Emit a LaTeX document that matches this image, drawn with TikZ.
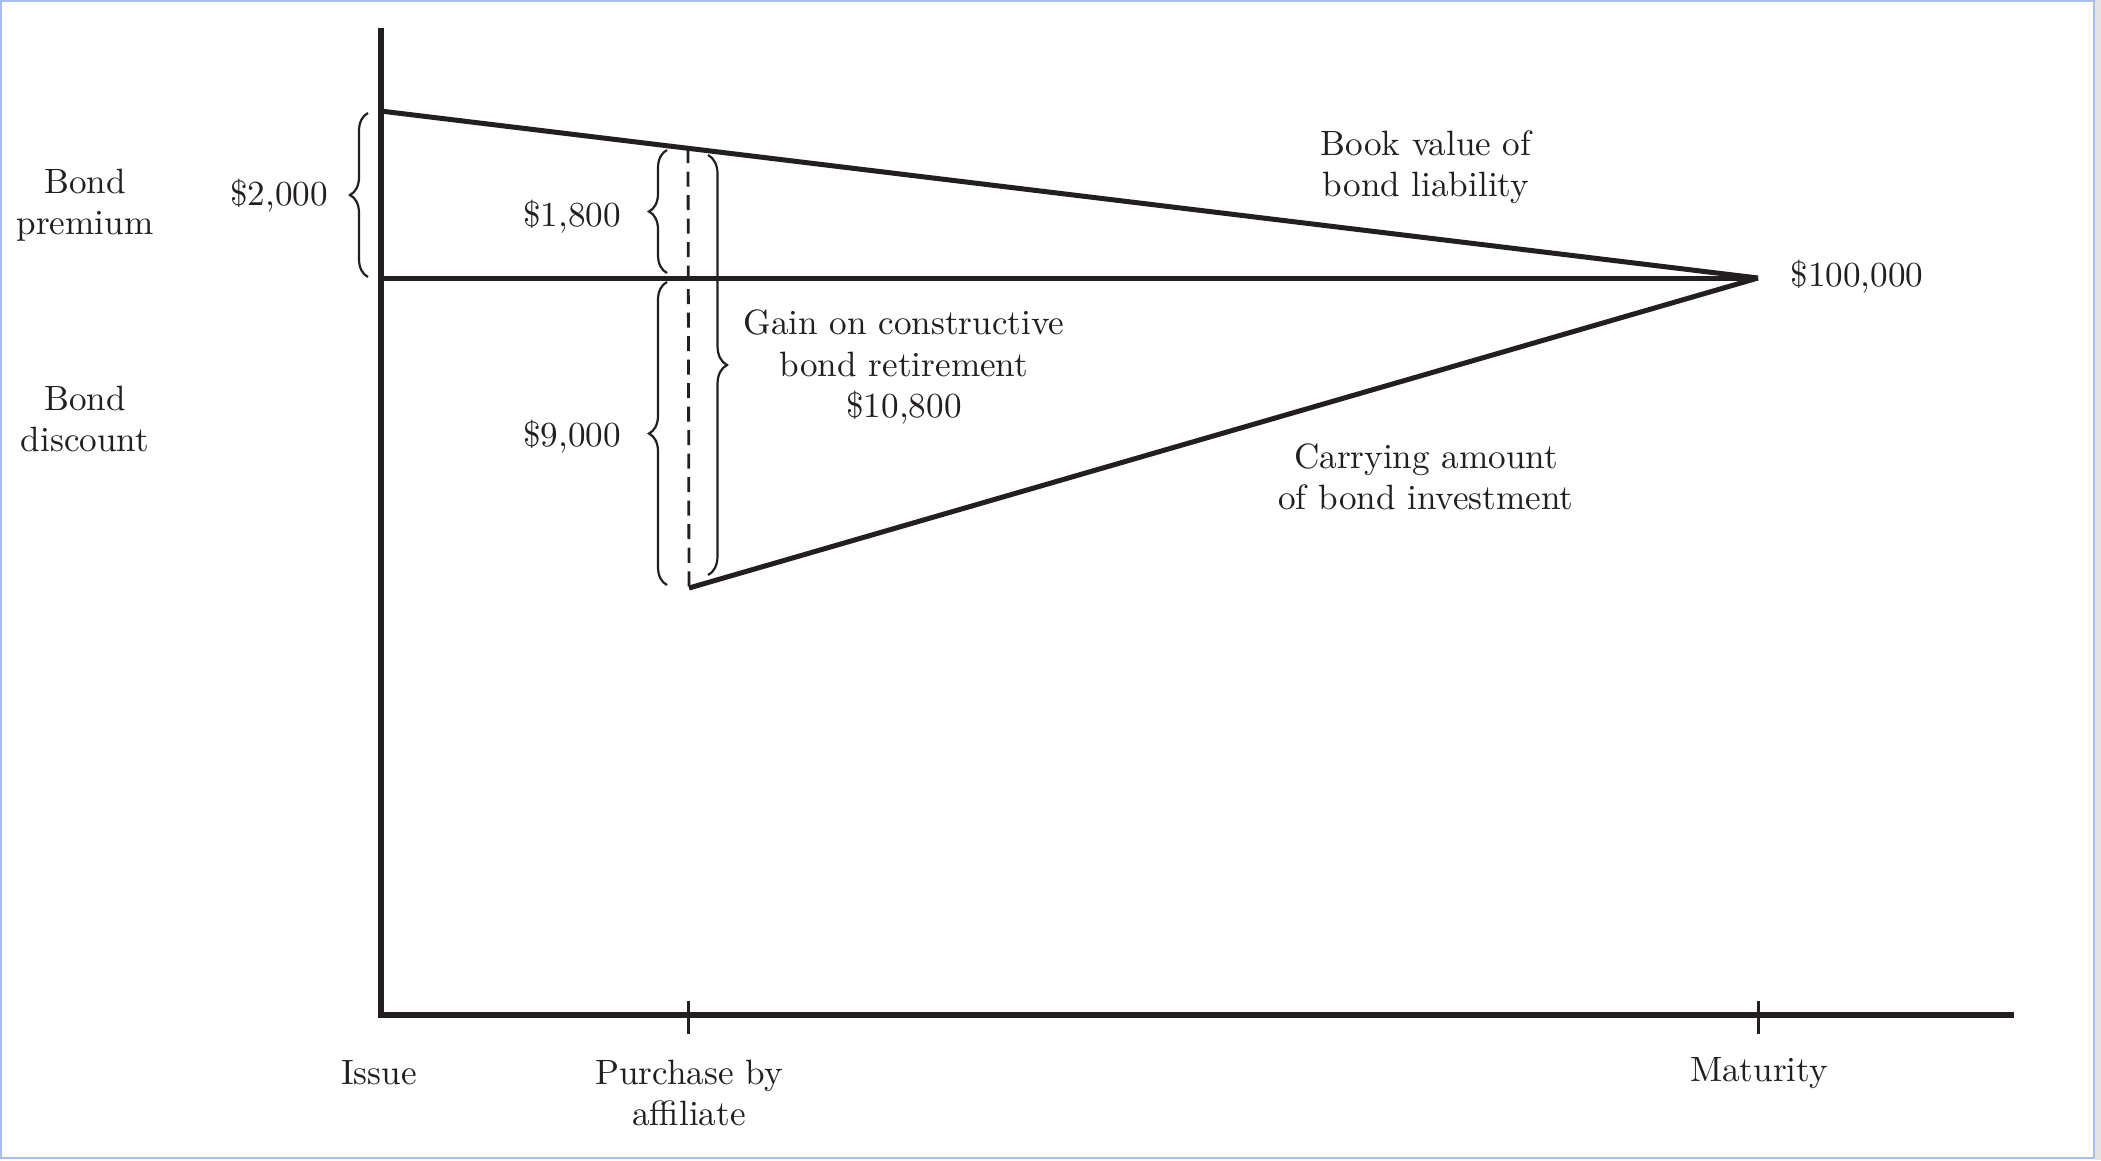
\documentclass[tikz,border=0pt]{standalone}
\usetikzlibrary{decorations.pathreplacing}
\definecolor{ink}{HTML}{231F20}
\definecolor{framec}{HTML}{A9BFEA}
\definecolor{stripc}{HTML}{E3E3E3}
\tikzset{
  lbl/.style={inner sep=0pt, text=ink, align=center, font=\fontsize{10}{11.8}\selectfont},
  axisline/.style={draw=ink, line width=0.06cm, line join=miter},
  mainline/.style={draw=ink, line width=0.05cm},
  tickline/.style={draw=ink, line width=0.03cm},
  dashline/.style={draw=ink, line width=0.028cm, dash pattern=on 0.15cm off 0.085cm},
  bracebox/.style={draw=ink, line width=0.022cm, decorate, decoration={brace, amplitude=0.18cm}}
}
\begin{document}
\begin{tikzpicture}[x=0.01cm, y=-0.01cm]
\useasboundingbox (0,0) rectangle (2101,1160);
\fill[white] (0,0) rectangle (2101,1160);
\fill[stripc] (2095,0) rectangle (2101,1160);
\draw[framec, line width=0.025cm] (1,1) rectangle (2094,1158);

% key points
\coordinate (axtop) at (380.5,28);
\coordinate (origin) at (380.5,1014.5);
\coordinate (axend) at (2014,1014.5);
\coordinate (issuetop) at (380.5,111);
\coordinate (issuemid) at (380.5,278);
\coordinate (mat) at (1758,278);
\coordinate (buytop) at (688,148);
\coordinate (buybot) at (689,588);
\coordinate (tickAtop) at (688,1001);
\coordinate (tickAbot) at (688,1034);
\coordinate (tickBtop) at (1758,1001);
\coordinate (tickBbot) at (1758,1034);

% axes
\draw[axisline] (axtop) |- (axend);
\draw[tickline] (tickAtop) -- (tickAbot);
\draw[tickline] (tickBtop) -- (tickBbot);

% value lines
\draw[mainline] (issuetop) -- (mat);
\draw[mainline] (issuemid) -- (mat);
\draw[mainline] (buybot) -- (mat);
\draw[dashline] (buytop) -- (buybot);

% braces
\coordinate (b2a) at (368,277);
\coordinate (b2b) at (368,113);
\coordinate (b18a) at (667,273);
\coordinate (b18b) at (667,150);
\coordinate (b9a) at (667,585);
\coordinate (b9b) at (667,282);
\coordinate (b10a) at (708,155);
\coordinate (b10b) at (708,575);
\draw[bracebox] (b2a) -- (b2b);
\draw[bracebox] (b18a) -- (b18b);
\draw[bracebox] (b9a) -- (b9b);
\draw[bracebox, decoration={brace, amplitude=0.19cm}] (b10a) -- (b10b);

% labels
\node[lbl] (bondprem) at (85,205) {Bond\\premium};
\node[lbl] (bonddisc) at (85,419) {Bond\\discount};
\node[lbl] (amt2000) at (279,196) {\$2,000};
\node[lbl] (amt1800) at (572,217) {\$1,800};
\node[lbl] (amt9000) at (572,437) {\$9,000};
\node[lbl] (gain) at (904,367) {Gain on constructive\\bond retirement\\\$10,800};
\node[lbl] (book) at (1426,167) {Book value of\\bond liability};
\node[lbl] (carry) at (1426,477) {Carrying amount\\of bond investment};
\node[lbl] (par) at (1857,277) {\$100,000};
\node[lbl] (issue) at (379,1073) {Issue};
\node[lbl] (purchase) at (689,1093) {Purchase by\\affiliate};
\node[lbl] (maturity) at (1759,1073) {Maturity};
\end{tikzpicture}
\end{document}
